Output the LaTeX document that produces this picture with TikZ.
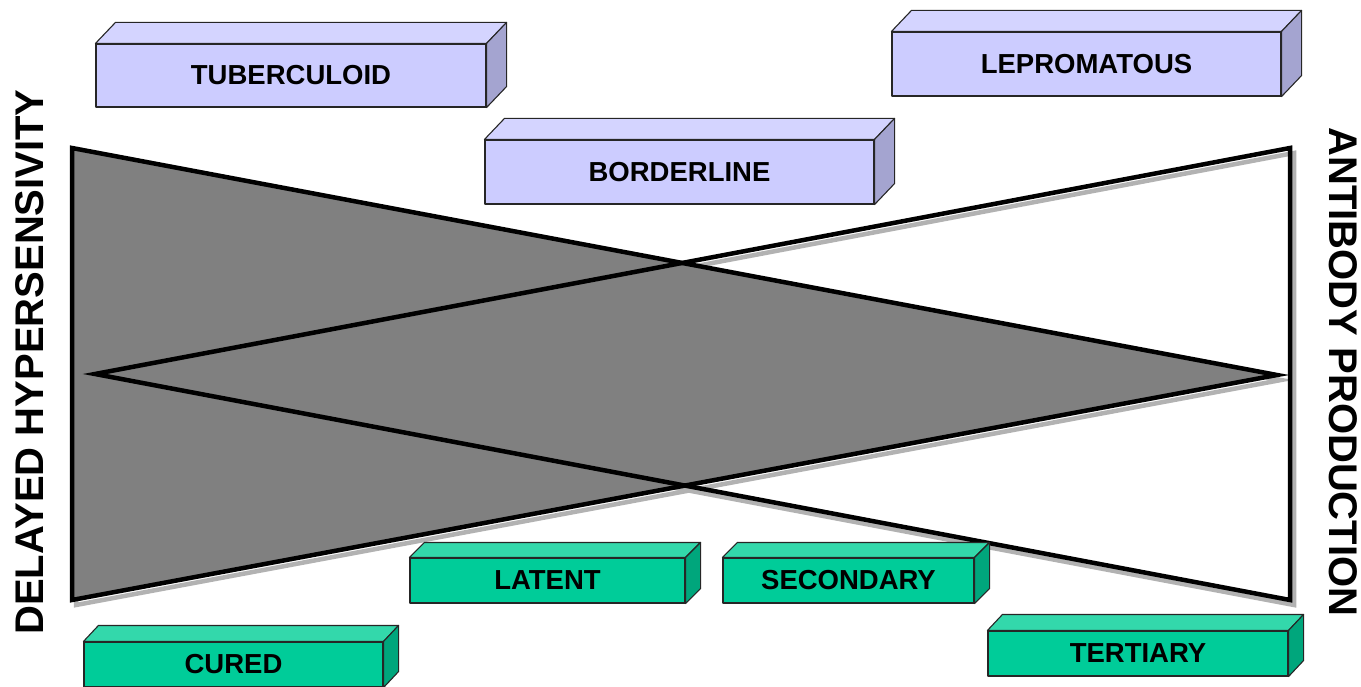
\documentclass[tikz,border=0pt]{standalone}
\usepackage{fontspec}
\setmainfont{Liberation Sans}
\usetikzlibrary{calc}
\definecolor{blueface}{HTML}{CCCCFF}
\definecolor{bluetop}{HTML}{D4D4FF}
\definecolor{blueside}{HTML}{A4A4D0}
\definecolor{greenface}{HTML}{00CC99}
\definecolor{greentop}{HTML}{33D8AB}
\definecolor{greenside}{HTML}{00A67C}
\definecolor{trigray}{HTML}{808080}
\tikzset{
  cubox/.style={draw=black!85, line width=1.1pt, inner sep=0pt, line join=round,
    font=\bfseries\fontsize{27.5}{30}\selectfont},
  bluebox/.style={cubox, fill=blueface},
  greenbox/.style={cubox, fill=greenface},
  triedge/.style={line width=4.5pt, line join=miter, draw=black},
  trishadow/.style={line width=4.5pt, line join=miter, draw=black!30},
  axislabel/.style={font=\bfseries\fontsize{40}{44}\selectfont, inner sep=0pt}
}
\newcommand\mycuboid[5]{%
  \filldraw[fill=#4, draw=black!85, line width=1.1pt, line join=round]
    (#1.north west) -- ++(#2,#3) -- ($(#1.north east)+(#2,#3)$) -- (#1.north east) -- cycle;
  \filldraw[fill=#5, draw=black!85, line width=1.1pt, line join=round]
    (#1.north east) -- ++(#2,#3) -- ($(#1.south east)+(#2,#3)$) -- (#1.south east) -- cycle;
}
\begin{document}
\begin{tikzpicture}[x=1pt,y=-1pt]
\useasboundingbox (0,0) rectangle (1361,687);
% triangle vertices
\coordinate (gA) at (72,148);
\coordinate (gB) at (1277,375);
\coordinate (gC) at (72,600);
\coordinate (wA) at (1290,148);
\coordinate (wB) at (95,374);
\coordinate (wC) at (1290,600);
% shadows
\draw[trishadow] ($(gA)+(4,5)$) -- ($(gB)+(4,5)$) -- ($(gC)+(4,5)$) -- cycle;
\draw[trishadow] ($(wA)+(4,5)$) -- ($(wB)+(4,5)$) -- ($(wC)+(4,5)$) -- cycle;
% gray triangle
\filldraw[triedge, fill=trigray] (gA) -- (gB) -- (gC) -- cycle;
% white (open) triangle
\draw[triedge] (wA) -- (wB) -- (wC) -- cycle;
% axis labels
\node[axislabel, rotate=90] (dh) at (30,362) {DELAYED HYPERSENSIVITY};
\node[axislabel, rotate=-90] (ap) at (1343,372) {ANTIBODY PRODUCTION};
% blue boxes
\node[bluebox, minimum width=390pt, minimum height=63pt] (tub) at (291,75.5) {TUBERCULOID};
\mycuboid{tub}{20}{-21}{bluetop}{blueside}
\node[bluebox, minimum width=389pt, minimum height=64pt] (lep) at (1086.5,64) {LEPROMATOUS};
\mycuboid{lep}{20}{-21}{bluetop}{blueside}
\node[bluebox, minimum width=389pt, minimum height=64pt] (bor) at (679.5,172) {BORDERLINE};
\mycuboid{bor}{20}{-21}{bluetop}{blueside}
% green boxes
\node[greenbox, minimum width=275pt, minimum height=45pt] (lat) at (547.5,580.5) {LATENT};
\mycuboid{lat}{15}{-15}{greentop}{greenside}
\node[greenbox, minimum width=251pt, minimum height=45pt] (sec) at (848.5,580.5) {SECONDARY};
\mycuboid{sec}{15}{-15}{greentop}{greenside}
\node[greenbox, minimum width=299pt, minimum height=45pt] (cur) at (233.5,664.5) {CURED};
\mycuboid{cur}{15}{-16}{greentop}{greenside}
\node[greenbox, minimum width=300pt, minimum height=45pt] (ter) at (1138,653.5) {TERTIARY};
\mycuboid{ter}{15}{-16}{greentop}{greenside}
\end{tikzpicture}
\end{document}
